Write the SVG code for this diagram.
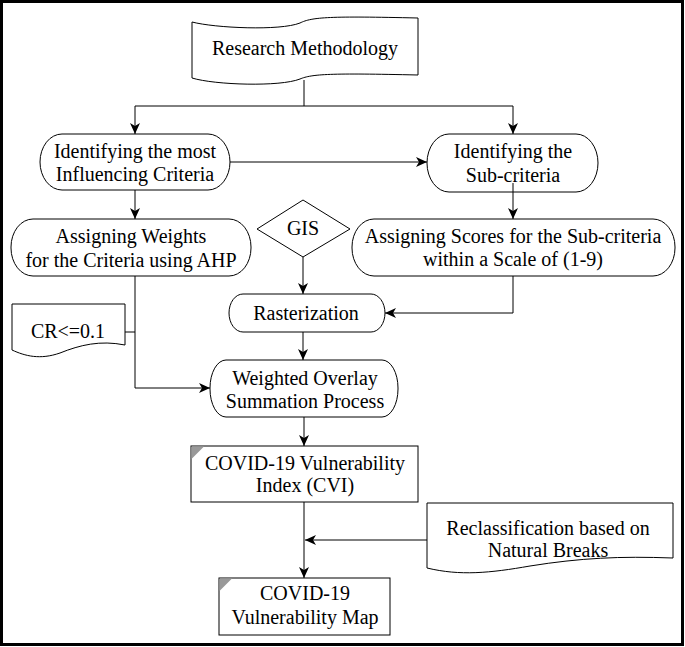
<svg xmlns="http://www.w3.org/2000/svg" width="685" height="647" viewBox="0 0 685 647">
<defs>
<marker id="ah" markerWidth="12" markerHeight="10" refX="11" refY="5" orient="auto" markerUnits="userSpaceOnUse">
<path d="M0,0 L11,5 L0,10 L3,5 Z" fill="#000"/>
</marker>
<style>
.s{fill:#fff;stroke:#000;stroke-width:1}
.t{font-family:"Liberation Serif","Times New Roman",serif;font-size:20px;fill:#000;text-anchor:middle}
.c{fill:none;stroke:#000;stroke-width:1}
.a{marker-end:url(#ah)}
.tri{fill:#999;stroke:none}
</style>
</defs>
<rect x="0" y="0" width="685" height="647" fill="#fff"/>
<rect x="1.5" y="1.5" width="681" height="643" fill="none" stroke="#000" stroke-width="3"/>

<g id="connectors">
<path class="c" d="M304,80 V106 M135,106 H513"/>
<path class="c a" d="M135,106 V134"/>
<path class="c a" d="M513,106 V134"/>
<path class="c a" d="M230,162 H427"/>
<path class="c a" d="M135,190 V219"/>
<path class="c a" d="M513,183 V219"/>
<path class="c a" d="M303,257 V294"/>
<path class="c a" d="M513,276 V313 H385"/>
<path class="c a" d="M303,332 V360"/>
<path class="c" d="M125,332 H135"/>
<path class="c a" d="M135,276 V388 H210"/>
<path class="c a" d="M304,417 V446"/>
<path class="c a" d="M304,502 V578"/>
<path class="c a" d="M427,540 H305"/>
</g>

<g id="research-methodology">
<path class="s" d="M192,22 C215,28 280,31 300,23 C312,17 330,16 418,18 L418,75 C330,73 312,74 300,79 C280,87 215,85 192,78 Z"/>
<text class="t" x="305" y="55">Research Methodology</text>
</g>

<g id="identifying-criteria">
<rect class="s" x="40" y="134" width="190" height="56" rx="22" ry="28"/>
<text class="t" x="135" y="158">Identifying the most</text>
<text class="t" x="135" y="181">Influencing Criteria</text>
</g>

<g id="identifying-subcriteria">
<rect class="s" x="427" y="134" width="171" height="58" rx="22" ry="29"/>
<text class="t" x="513" y="158">Identifying the</text>
<text class="t" x="513" y="182">Sub-criteria</text>
</g>
<path class="c" d="M513,183 V192"/>

<g id="assigning-weights">
<rect class="s" x="11" y="219" width="240" height="57" rx="22" ry="28"/>
<text class="t" x="131" y="243">Assigning Weights</text>
<text class="t" x="131" y="267">for the Criteria using AHP</text>
</g>

<g id="gis">
<polygon class="s" points="303,200 350,229 303,257 257,229"/>
<text class="t" x="303" y="235">GIS</text>
</g>

<g id="assigning-scores">
<rect class="s" x="352" y="219" width="323" height="57" rx="22" ry="28"/>
<text class="t" x="513" y="243">Assigning Scores for the Sub-criteria</text>
<text class="t" x="513" y="266">within a Scale of (1-9)</text>
</g>

<g id="rasterization">
<rect class="s" x="229" y="294" width="156" height="38" rx="14" ry="19"/>
<text class="t" x="306" y="320">Rasterization</text>
</g>

<g id="cr">
<path class="s" d="M12,304 H125 V345 C100,340 80,345 60,353 C40,360 25,356 12,350 Z"/>
<text class="t" x="68" y="338">CR&lt;=0.1</text>
</g>

<g id="weighted-overlay">
<rect class="s" x="210" y="360" width="188" height="57" rx="16" ry="28"/>
<text class="t" x="305" y="385">Weighted Overlay</text>
<text class="t" x="305" y="408">Summation Process</text>
</g>

<g id="cvi">
<rect class="s" x="191" y="446" width="227" height="56"/>
<path class="tri" d="M191.5,446.5 H204 L191.5,459 Z"/>
<text class="t" x="305" y="470">COVID-19 Vulnerability</text>
<text class="t" x="305" y="492">Index (CVI)</text>
</g>

<g id="reclassification">
<path class="s" d="M427,503 H673 V558 C620,556 580,558 530,566 C490,573 460,576 427,568 Z"/>
<text class="t" x="548" y="535">Reclassification based on</text>
<text class="t" x="548" y="557">Natural Breaks</text>
</g>

<g id="map">
<rect class="s" x="219" y="578" width="171" height="57"/>
<path class="tri" d="M219.5,578.5 H232 L219.5,591 Z"/>
<text class="t" x="305" y="600">COVID-19</text>
<text class="t" x="305" y="624">Vulnerability Map</text>
</g>
</svg>
